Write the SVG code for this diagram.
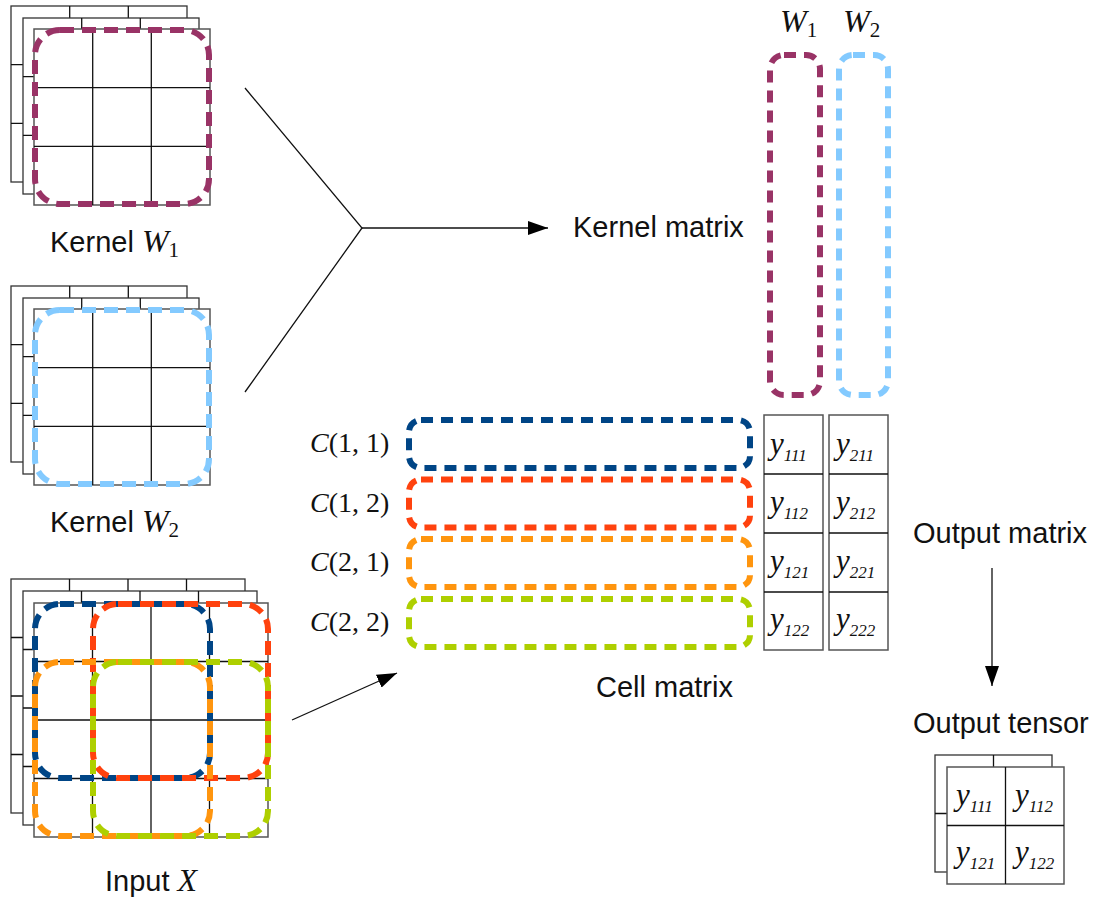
<svg xmlns="http://www.w3.org/2000/svg" width="1094" height="901" viewBox="0 0 1094 901">
<style>
.lay{fill:#fff;stroke:#333;stroke-width:1.3}
.fr{fill:#fff;stroke:#555;stroke-width:1.5}
.gl{stroke:#111;stroke-width:1.3;fill:none}
.d{fill:none;stroke-width:6;stroke-dasharray:14 8}
.dc{fill:none;stroke-width:6;stroke-dasharray:12 8}
.pu{stroke:#993366}.lb{stroke:#83caff}.db{stroke:#004586}.rd{stroke:#ff420e}.or{stroke:#ff950e}.gr{stroke:#aecf00}
.t{font-family:"Liberation Sans",Arial,sans-serif;font-size:29px;fill:#111}
.m{font-family:"Liberation Serif","Times New Roman",serif;fill:#111}
.mi{font-style:italic}
.y{font-family:"Liberation Serif","Times New Roman",serif;font-style:italic;font-size:31px;fill:#111}
.s{font-size:17px}
.cn{stroke:#111;stroke-width:1.3;fill:none}
</style>
<defs>
<marker id="ah" markerUnits="userSpaceOnUse" markerWidth="20" markerHeight="14" refX="20" refY="7" orient="auto"><path d="M0,0 L20,7 L0,14 z" fill="#000"/></marker>
</defs>

<g id="kernel1">
<rect class="lay" x="11" y="6" width="176" height="176"/>
<path class="gl" d="M69.7 6V182M128.3 6V182M11 64.7H187M11 123.3H187"/>
<rect class="lay" x="23" y="18" width="176" height="176"/>
<path class="gl" d="M81.7 18V194M140.3 18V194M23 76.7H199M23 135.3H199"/>
<rect class="fr" x="34" y="29" width="176" height="176"/>
<path class="gl" d="M92.7 29V205M151.3 29V205M34 87.7H210M34 146.3H210"/>
<rect class="d pu" x="35" y="30" width="174" height="174" rx="25"/>
<text class="t" x="50" y="252">Kernel <tspan class="m mi" font-size="32">W</tspan><tspan class="m" font-size="21" dy="5">1</tspan></text>
</g>

<g id="kernel2">
<rect class="lay" x="11" y="286" width="176" height="176"/>
<path class="gl" d="M69.7 286V462M128.3 286V462M11 344.7H187M11 403.3H187"/>
<rect class="lay" x="23" y="298" width="176" height="176"/>
<path class="gl" d="M81.7 298V474M140.3 298V474M23 356.7H199M23 415.3H199"/>
<rect class="fr" x="34" y="309" width="176" height="176"/>
<path class="gl" d="M92.7 309V485M151.3 309V485M34 367.7H210M34 426.3H210"/>
<rect class="d lb" x="35" y="310" width="174" height="174" rx="25"/>
<text class="t" x="50" y="532">Kernel <tspan class="m mi" font-size="32">W</tspan><tspan class="m" font-size="21" dy="5">2</tspan></text>
</g>

<g id="input">
<rect class="lay" x="11" y="579" width="234" height="234"/>
<path class="gl" d="M69.5 579V813M128 579V813M186.5 579V813M11 637.5H245M11 696H245M11 754.5H245"/>
<rect class="lay" x="23" y="591" width="234" height="234"/>
<path class="gl" d="M81.5 591V825M140 591V825M198.5 591V825M23 649.5H257M23 708H257M23 766.5H257"/>
<rect class="fr" x="34" y="603" width="234" height="234"/>
<path class="gl" d="M92.5 603V837M151 603V837M209.5 603V837M34 661.5H268M34 720H268M34 778.5H268"/>
<rect class="d db" x="35" y="604" width="175" height="174" rx="25"/>
<rect class="d rd" x="93" y="604" width="175" height="174" rx="25"/>
<rect class="d or" x="35" y="662" width="175" height="174" rx="25"/>
<rect class="d gr" x="93" y="662" width="175" height="174" rx="25"/>
<text class="t" x="105" y="891">Input <tspan class="m mi" font-size="32">X</tspan></text>
</g>

<g id="kernel-matrix">
<text class="m" x="780" y="32"><tspan class="mi" font-size="32">W</tspan><tspan font-size="21" dy="5">1</tspan></text>
<text class="m" x="843" y="32"><tspan class="mi" font-size="32">W</tspan><tspan font-size="21" dy="5">2</tspan></text>
<rect class="dc pu" x="770" y="55" width="50" height="340" rx="14"/>
<rect class="dc lb" x="839" y="55" width="49" height="340" rx="14"/>
<text class="t" x="573" y="237">Kernel matrix</text>
</g>

<g id="cell-matrix">
<rect class="dc db" x="409" y="420" width="341" height="48" rx="12"/>
<rect class="dc rd" x="409" y="479.5" width="341" height="48" rx="12"/>
<rect class="dc or" x="409" y="539" width="341" height="48" rx="12"/>
<rect class="dc gr" x="409" y="599" width="341" height="48" rx="12"/>
<text class="m" font-size="28" x="310" y="452"><tspan class="mi">C</tspan>(1, 1)</text>
<text class="m" font-size="28" x="310" y="512"><tspan class="mi">C</tspan>(1, 2)</text>
<text class="m" font-size="28" x="310" y="571"><tspan class="mi">C</tspan>(2, 1)</text>
<text class="m" font-size="28" x="310" y="631"><tspan class="mi">C</tspan>(2, 2)</text>
<text class="t" x="596" y="697">Cell matrix</text>
</g>

<g id="output-matrix">
<rect class="fr" x="764" y="415" width="59" height="235"/>
<rect class="fr" x="829" y="415" width="59" height="235"/>
<path class="gl" d="M764 474H823M764 533H823M764 592H823M829 474H888M829 533H888M829 592H888"/>
<text class="y" x="770" y="454">y<tspan class="s" dy="7">111</tspan></text>
<text class="y" x="770" y="512">y<tspan class="s" dy="7">112</tspan></text>
<text class="y" x="770" y="571">y<tspan class="s" dy="7">121</tspan></text>
<text class="y" x="770" y="629">y<tspan class="s" dy="7">122</tspan></text>
<text class="y" x="836" y="454">y<tspan class="s" dy="7">211</tspan></text>
<text class="y" x="836" y="512">y<tspan class="s" dy="7">212</tspan></text>
<text class="y" x="836" y="571">y<tspan class="s" dy="7">221</tspan></text>
<text class="y" x="836" y="629">y<tspan class="s" dy="7">222</tspan></text>
<text class="t" x="913" y="543">Output matrix</text>
</g>

<g id="output-tensor">
<rect class="lay" x="935" y="755" width="117" height="117"/>
<path class="gl" d="M993.5 755V872M935 813.5H1052"/>
<rect class="fr" x="947" y="767" width="117" height="117"/>
<path class="gl" d="M1005.5 767V884M947 825.5H1064"/>
<text class="y" x="956" y="805">y<tspan class="s" dy="7">111</tspan></text>
<text class="y" x="1015" y="805">y<tspan class="s" dy="7">112</tspan></text>
<text class="y" x="956" y="862">y<tspan class="s" dy="7">121</tspan></text>
<text class="y" x="1015" y="862">y<tspan class="s" dy="7">122</tspan></text>
<text class="t" x="913" y="733">Output tensor</text>
</g>

<g id="connectors">
<path class="cn" d="M245 88L362 228L245 392"/>
<path class="cn" d="M362 228H548" marker-end="url(#ah)"/>
<path class="cn" d="M292 720L397 673" marker-end="url(#ah)"/>
<path class="cn" d="M992 568V686" marker-end="url(#ah)"/>
</g>
</svg>
